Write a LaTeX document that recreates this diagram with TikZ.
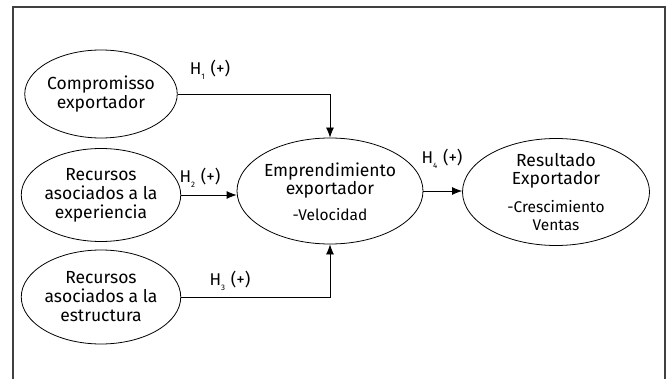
\documentclass[tikz,border=0pt]{standalone}
\usepackage{fontspec}
\setmainfont{Fira Sans}
\usetikzlibrary{shapes.geometric,arrows.meta}
\newcommand{\hyp}[1]{H{\fontsize{8}{8}\selectfont\raisebox{-5pt}{#1}}\,\,(+)}
\begin{document}
\begin{tikzpicture}[x=1pt,y=-1pt,
  oval/.style={draw,ellipse,inner sep=0pt,align=center,font=\fontsize{17.5}{19}\selectfont,line width=0.8pt},
  link/.style={draw,line width=0.8pt,-{Latex[length=10pt,width=8pt]}},
  lab/.style={font=\fontsize{17}{18}\selectfont,inner sep=0pt},
  txt/.style={inner sep=0pt,align=center,font=\fontsize{17.5}{19}\selectfont}]
\useasboundingbox (0,0) rectangle (668,379);
\draw[line width=1.2pt,black!75] (13,379) -- (13,7) -- (665,7) -- (665,379);
\node[oval,minimum width=141pt,minimum height=88pt] (c) at (101,94) {Compromisso\\exportador};
\node[oval,minimum width=140pt,minimum height=93pt] (x) at (101,195) {Recursos\\asociados a la\\experiencia};
\node[oval,minimum width=140pt,minimum height=94pt] (s) at (101,297) {Recursos\\asociados a la\\estructura};
\node[oval,minimum width=186pt,minimum height=106pt] (e) at (330,191) {};
\node[oval,minimum width=187pt,minimum height=107pt] (r) at (556,192) {};
\node[txt,anchor=base] (e1) at (330,177) {Emprendimiento};
\node[txt,anchor=base] (e2) at (330,195) {exportador};
\node[txt,anchor=base,font=\fontsize{15.5}{18}\selectfont] (e3) at (330,220) {-Velocidad};
\node[txt,anchor=base] (r1) at (556,167) {Resultado};
\node[txt,anchor=base] (r2) at (556,185) {Exportador};
\node[txt,anchor=base,font=\fontsize{15.5}{18}\selectfont] (r3) at (556,212) {-Crescimiento};
\node[txt,anchor=base,font=\fontsize{15.5}{18}\selectfont] (r4) at (556,230) {Ventas};
\draw[link] (c.east) -| (e.north);
\draw[link] (x.east) -- (x.east -| e.west);
\draw[link] (s.east) -| (e.south);
\draw[link] (e.east) -- (e.east -| r.west);
\node[lab] (h1) at (210,70) {\hyp{1}};
\node[lab] (h2) at (200,178) {\hyp{2}};
\node[lab] (h3) at (230,281) {\hyp{3}};
\node[lab] (h4) at (442,159) {\hyp{4}};
\end{tikzpicture}
\end{document}
